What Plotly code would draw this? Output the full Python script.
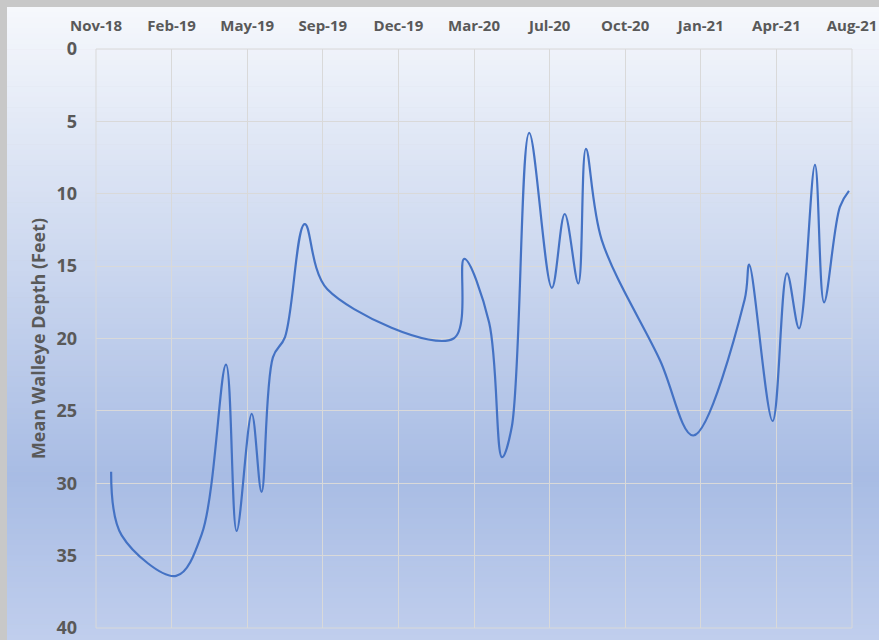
import plotly.graph_objects as go

# ---- data ----
dates = [
    "2018-11-30", "2018-12-14", "2019-02-24", "2019-03-30", "2019-05-01",
    "2019-05-15", "2019-06-04", "2019-06-17", "2019-07-02", "2019-07-18",
    "2019-08-13", "2019-09-12", "2020-02-26", "2020-03-11", "2020-04-13",
    "2020-04-30", "2020-05-13", "2020-06-05", "2020-07-05", "2020-07-22",
    "2020-08-09", "2020-08-19", "2020-09-09", "2020-11-25", "2021-01-08",
    "2021-03-17", "2021-03-23", "2021-04-23", "2021-05-12", "2021-05-28",
    "2021-06-18", "2021-06-30", "2021-07-21", "2021-08-02",
]
depth_ft = [
    29.2, 33.6, 36.4, 33.5, 21.8,
    33.3, 25.2, 30.6, 21.3, 19.9,
    12.1, 16.6, 20.0, 14.5, 18.9,
    28.2, 26.1, 5.8, 16.5, 11.4,
    16.2, 6.9, 13.2, 21.5, 26.7,
    17.3, 14.9, 25.7, 15.5, 19.3,
    8.0, 17.5, 10.9, 9.8,
]
x_start = "2018-11-10"
x_end = "2021-08-06"
y_title = "Mean Walleye Depth (Feet)"

W, H = 879, 640
L, R, T, B = 96, 852, 49, 628
pw, ph = R - L, B - T

fig = go.Figure()
fig.add_trace(go.Scatter(
    x=dates, y=depth_ft, mode="lines",
    line=dict(color="#4472c4", width=2.2, shape="spline", smoothing=1.0),
    hoverinfo="x+y", showlegend=False,
))

# vertical gradient background (stripes) in paper coords
def lerp(a, b, t):
    return tuple(a[i] + (b[i] - a[i]) * t for i in range(3))

stops = [(0.0, (246, 248, 252)), (0.74, (168, 188, 228)), (1.0, (192, 206, 237))]
def col(t):
    for i in range(len(stops) - 1):
        t0, c0 = stops[i]
        t1, c1 = stops[i + 1]
        if t <= t1:
            return lerp(c0, c1, (t - t0) / (t1 - t0))
    return stops[-1][1]

shapes = []
top_px, bot_px, left_px = 7, H, 7
n = 120
for i in range(n):
    y0p = top_px + (bot_px - top_px) * i / n
    y1p = top_px + (bot_px - top_px) * (i + 1) / n + 0.6
    c = col((i + 0.5) / n)
    shapes.append(dict(
        type="rect", xref="paper", yref="paper", layer="below",
        x0=(left_px - L) / pw, x1=(W - L) / pw,
        y0=(B - y1p) / ph, y1=(B - y0p) / ph,
        fillcolor="rgb(%d,%d,%d)" % tuple(int(round(v)) for v in c),
        line=dict(width=0),
    ))
# plot-area border
shapes.append(dict(type="rect", xref="paper", yref="paper", layer="below",
                   x0=0, x1=1, y0=0, y1=1, line=dict(color="#d9d9d9", width=1)))

fnt = "Open Sans"
fig.update_layout(
    width=W, height=H,
    margin=dict(l=L, r=W - R, t=T, b=H - B, autoexpand=False),
    paper_bgcolor="#c8c8c8",
    plot_bgcolor="rgba(0,0,0,0)",
    shapes=shapes,
    xaxis=dict(
        type="date", side="top",
        range=[x_start, x_end],
        tick0=x_start, dtick=86400000 * 100, tickformat="%b-%y",
        showgrid=True, gridcolor="#d9d9d9", gridwidth=1,
        zeroline=False, showline=False, ticks="",
        tickfont=dict(family=fnt, size=15, color="#595959", weight="bold"),
        ticklabelstandoff=14,
    ),
    yaxis=dict(
        range=[40, 0], tick0=0, dtick=5,
        showgrid=True, gridcolor="#d9d9d9", gridwidth=1,
        zeroline=False, showline=False, ticks="",
        tickfont=dict(family=fnt, size=18, color="#595959", weight="bold"),
        ticklabelstandoff=18,
        title=dict(text=y_title, standoff=6,
                   font=dict(family=fnt, size=18, color="#595959", weight="bold")),
    ),
)

fig.write_html("out.html", config={"displayModeBar": False},
               post_script="document.body.style.margin='0';document.body.style.overflow='hidden';")
